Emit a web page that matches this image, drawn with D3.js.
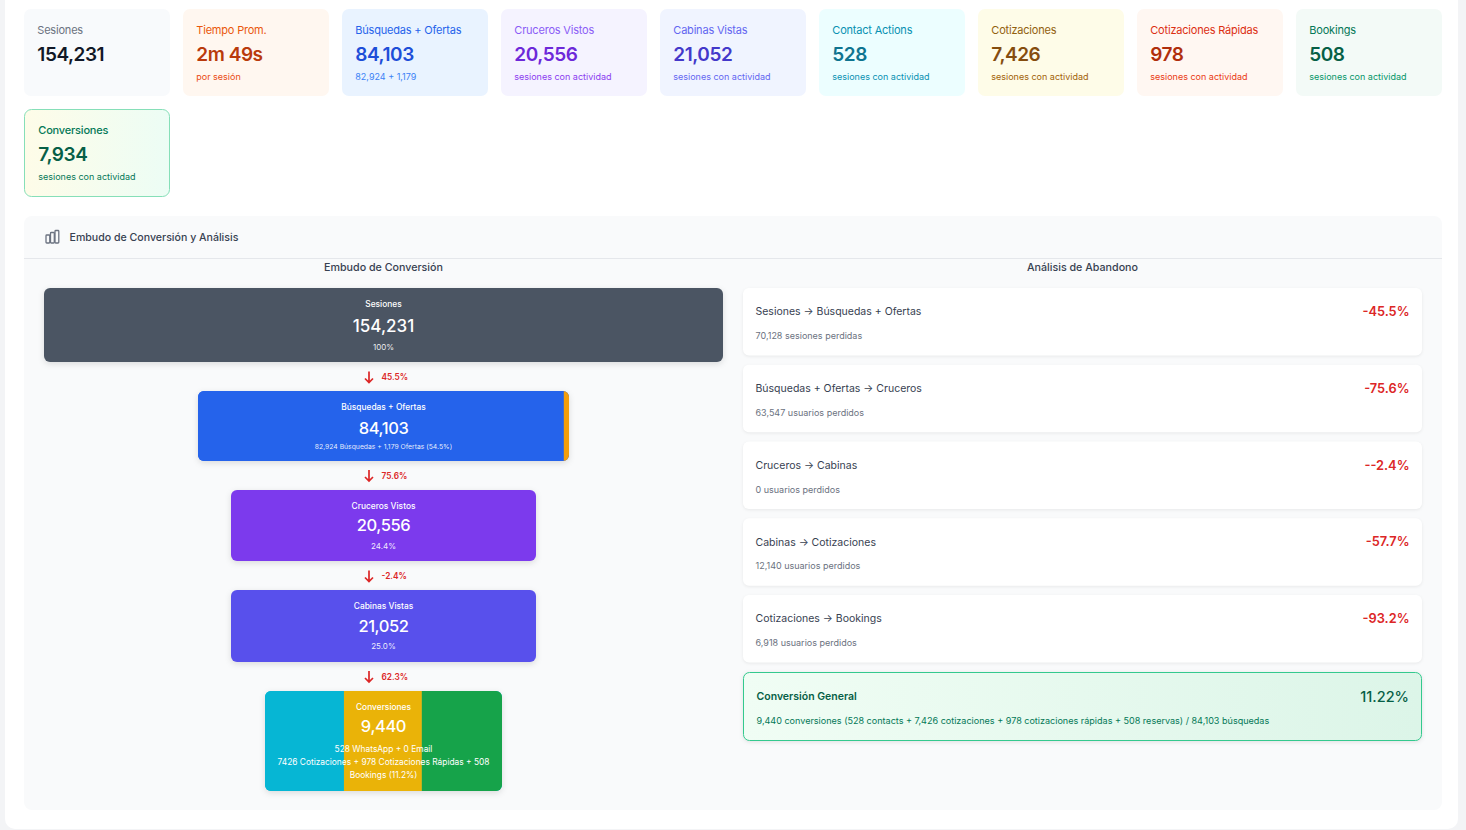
<!DOCTYPE html>
<html>
<head>
<meta charset="utf-8">
<script src="https://cdn.jsdelivr.net/npm/d3@7"></script>
<style>
    html, body { margin: 0; padding: 0; background: #f3f4f6; overflow: hidden; }
    svg { display: block; font-family: Inter, "Noto Sans", sans-serif; }
</style>
</head>
<body>
<svg id="chart" width="1466" height="830"></svg>
<script>
// KPI cards
const cardLabels = ["Sesiones", "Tiempo Prom.", "Búsquedas + Ofertas", "Cruceros Vistos", "Cabinas Vistas", "Contact Actions", "Cotizaciones", "Cotizaciones Rápidas", "Bookings", "Conversiones"];
const cardValues = ["154,231", "2m 49s", "84,103", "20,556", "21,052", "528", "7,426", "978", "508", "7,934"];
const cardNotes = ["", "por sesión", "82,924 + 1,179", "sesiones con actividad", "sesiones con actividad", "sesiones con actividad", "sesiones con actividad", "sesiones con actividad", "sesiones con actividad", "sesiones con actividad"];

// Funnel
const funnelLabels = ["Sesiones", "Búsquedas + Ofertas", "Cruceros Vistos", "Cabinas Vistas", "Conversiones"];
const funnelValues = ["154,231", "84,103", "20,556", "21,052", "9,440"];
const funnelNotes = [["100%"], ["82,924 Búsquedas + 1,179 Ofertas (54.5%)"], ["24.4%"], ["25.0%"], ["528 WhatsApp + 0 Email", "7426 Cotizaciones + 978 Cotizaciones Rápidas + 508", "Bookings (11.2%)"]];
const funnelDrops = ["45.5%", "75.6%", "-2.4%", "62.3%"];
const searchParts = [82924, 1179];
const conversionParts = [33.3, 32.9, 33.8];

// Abandon list
const lossLabels = ["Sesiones → Búsquedas + Ofertas", "Búsquedas + Ofertas → Cruceros", "Cruceros → Cabinas", "Cabinas → Cotizaciones", "Cotizaciones → Bookings"];
const lossNotes = ["70,128 sesiones perdidas", "63,547 usuarios perdidos", "0 usuarios perdidos", "12,140 usuarios perdidos", "6,918 usuarios perdidos"];
const lossRates = ["-45.5%", "-75.6%", "--2.4%", "-57.7%", "-93.2%"];
const overallLabel = "Conversión General";
const overallRate = "11.22%";
const overallNote = "9,440 conversiones (528 contacts + 7,426 cotizaciones + 978 cotizaciones rápidas + 508 reservas) / 84,103 búsquedas";

const svg = d3.select("#chart");
const defs = svg.append("defs");

// Page frame
svg.append("rect").attr("x", 5).attr("y", -20).attr("width", 1453).attr("height", 849).attr("rx", 10).attr("fill", "#fff");

function addGradient(id, from, to) {
    let g = defs.append("linearGradient").attr("id", id);
    g.append("stop").attr("offset", "0%").attr("stop-color", from);
    g.append("stop").attr("offset", "100%").attr("stop-color", to);
}
addGradient("cardGreen", "#fefce8", "#ecfdf5");
addGradient("overallGreen", "#f0fdf4", "#dcf5e8");

// Build the KPI cards
const cardColumn = d3.scaleBand().domain(d3.range(9)).range([24, 1442]).paddingInner(0.0817);
const cardBg = ["#f8fafc", "#fff7f0", "#e9f3ff", "#f5f3ff", "#f0f4ff", "#ecfeff", "#fefce8", "#fff7f2", "#f3faf7", "url(#cardGreen)"];
const cardLabelColor = ["#6b7280", "#ea580c", "#2563eb", "#8b5cf6", "#6366f1", "#0891b2", "#92610e", "#dc2f12", "#047857", "#047857"];
const cardValueColor = ["#111827", "#b93a0c", "#1d4ed8", "#6d28d9", "#4338ca", "#0e7490", "#854d0e", "#b02e0c", "#065f46", "#065f46"];
const cardNoteColor = ["#6b7280", "#ea4a12", "#3b82f6", "#8b3cf0", "#6366f1", "#0891b2", "#a16207", "#ea3a12", "#059669", "#047857"];

const cards = svg.selectAll("g.card").data(cardLabels).join("g")
    .attr("class", "card")
    .attr("transform", (d, i) => i < 9 ? `translate(${cardColumn(i)},9)` : "translate(24,109)");
cards.append("rect")
    .attr("x", (d, i) => i < 9 ? 0 : 0.5)
    .attr("y", (d, i) => i < 9 ? 0 : 0.5)
    .attr("width", (d, i) => i < 9 ? cardColumn.bandwidth() : cardColumn.bandwidth() - 1)
    .attr("height", 87)
    .attr("rx", 7)
    .attr("fill", (d, i) => cardBg[i])
    .attr("stroke", (d, i) => i < 9 ? "none" : "#86dfb8");
cards.append("text").attr("x", (d, i) => i < 9 ? 13.3 : 14.3).attr("y", 24.8)
    .attr("font-size", 11).attr("letter-spacing", -0.2).attr("font-weight", (d, i) => i < 9 ? 400 : 500)
    .attr("fill", (d, i) => cardLabelColor[i]).text(d => d);
cards.append("text").attr("x", (d, i) => i < 9 ? 13.3 : 14.3).attr("y", 51.8)
    .attr("font-size", 19).attr("letter-spacing", -0.45).attr("font-weight", 600)
    .attr("fill", (d, i) => cardValueColor[i]).text((d, i) => cardValues[i]);
cards.append("text").attr("x", (d, i) => i < 9 ? 13.3 : 14.3).attr("y", 71)
    .attr("font-size", 9).attr("fill", (d, i) => cardNoteColor[i]).text((d, i) => cardNotes[i]);

// Panel
svg.append("rect").attr("x", 24).attr("y", 216).attr("width", 1418).attr("height", 594).attr("rx", 8).attr("fill", "#f9fafb");
svg.append("line").attr("x1", 24).attr("x2", 1442).attr("y1", 258.5).attr("y2", 258.5).attr("stroke", "#e5e7eb");
svg.append("text").attr("x", 69.5).attr("y", 241).attr("font-size", 10.6).attr("font-weight", 500).attr("fill", "#374151").text("Embudo de Conversión y Análisis");

// Bar chart icon in the header
const icon = svg.append("g").attr("fill", "none").attr("stroke", "#6b7280").attr("stroke-width", 1.3);
[[46, 235, 3.8, 8], [50.5, 232.5, 3.8, 10.5], [55, 230.5, 3.8, 12.5]].forEach(b => {
    icon.append("rect").attr("x", b[0]).attr("y", b[1]).attr("width", b[2]).attr("height", b[3]).attr("rx", 0.8);
});

svg.append("text").attr("x", 383.5).attr("y", 271).attr("text-anchor", "middle").attr("font-size", 10.7).attr("font-weight", 500).attr("fill", "#374151").text("Embudo de Conversión");
svg.append("text").attr("x", 1082.5).attr("y", 271).attr("text-anchor", "middle").attr("font-size", 10.7).attr("font-weight", 500).attr("fill", "#374151").text("Análisis de Abandono");

// Funnel scales
const funnelWidth = d3.scaleOrdinal().domain(funnelLabels).range([679, 371, 305, 305, 237]);
const funnelTop = d3.scaleOrdinal().domain(funnelLabels).range([288, 391, 490, 590, 691]);
const funnelHeight = d3.scaleOrdinal().domain(funnelLabels).range([74, 70, 71, 72, 100]);
const funnelColor = d3.scaleOrdinal().domain(funnelLabels).range(["#4b5563", "#2563eb", "#7c3aed", "#5850ec", "#06b6d4"]);
const funnelCx = 383.5;

// Vertical text offsets inside each block: label, value, notes
const labelY = [19, 19, 19, 19, 19];
const valueY = [43.5, 43, 41, 42, 41];
const noteY = [62, 58, 59, 59, 61];

funnelLabels.forEach((name, i) => {
    let w = funnelWidth(name), x = funnelCx - w / 2, y = funnelTop(name), h = funnelHeight(name);
    let clipId = "funnelClip" + i;
    defs.append("clipPath").attr("id", clipId).append("rect").attr("x", x).attr("y", y).attr("width", w).attr("height", h).attr("rx", 6);
    svg.append("rect").attr("x", x).attr("y", y).attr("width", w).attr("height", h).attr("rx", 6)
        .attr("fill", funnelColor(name)).style("filter", "drop-shadow(0 2px 3px rgba(0,0,0,0.12))");

    // Búsquedas and Conversiones are stacked from their parts
    let parts = i === 1 ? searchParts : i === 4 ? conversionParts : null;
    if (parts) {
        let partColor = i === 1 ? ["#2563eb", "#f59e0b"] : ["#06b6d4", "#eab308", "#16a34a"];
        let px = d3.scaleLinear().domain([0, d3.sum(parts)]).range([x, x + w]);
        let stack = d3.cumsum(parts);
        svg.append("g").attr("clip-path", `url(#${clipId})`).selectAll("rect").data(parts).join("rect")
            .attr("x", (d, j) => px(stack[j] - d))
            .attr("y", y)
            .attr("width", d => px(d) - px(0))
            .attr("height", h)
            .attr("fill", (d, j) => partColor[j]);
    }

    svg.append("text").attr("x", funnelCx).attr("y", y + labelY[i]).attr("text-anchor", "middle")
        .attr("font-size", 8.4).attr("font-weight", 500).attr("fill", "#fff").text(name);
    svg.append("text").attr("x", funnelCx).attr("y", y + valueY[i]).attr("text-anchor", "middle")
        .attr("font-size", i === 0 ? 17 : 16.5).attr("letter-spacing", i === 0 ? 0 : -0.4).attr("font-weight", 500).attr("fill", "#fff").text(funnelValues[i]);
    funnelNotes[i].forEach((line, j) => {
        svg.append("text").attr("x", funnelCx).attr("y", y + noteY[i] + j * 13).attr("text-anchor", "middle")
            .attr("font-size", i === 1 ? 6.8 : i === 4 ? 8.4 : 8)
            .attr("fill", "#fff").attr("fill-opacity", i === 4 ? 1 : 0.9).text(line);
    });

    // Drop arrow below the block
    if (i < funnelDrops.length) {
        let ay = y + h + 15 - (i === 1 || i === 3 ? 0.5 : 0);
        svg.append("path").attr("d", `M369 ${ay - 5.5}V${ay + 5.5}M365 ${ay + 1.5}L369 ${ay + 5.5}L373 ${ay + 1.5}`)
            .attr("fill", "none").attr("stroke", "#dc2626").attr("stroke-width", 1.7);
        svg.append("text").attr("x", 381.5).attr("y", ay + 3).attr("font-size", 8.3).attr("font-weight", 600).attr("fill", "#dc2626").text(funnelDrops[i]);
    }
});

// Abandon rows
const rowY = d3.scalePoint().domain(d3.range(lossLabels.length)).range([288, 595]);
const rows = svg.selectAll("g.row").data(lossLabels).join("g").attr("class", "row")
    .attr("transform", (d, i) => `translate(743,${rowY(i)})`);
rows.append("rect").attr("width", 679).attr("height", 67.5).attr("rx", 6).attr("fill", "#fff")
    .style("filter", "drop-shadow(0 1px 1.5px rgba(0,0,0,0.07))");
rows.append("text").attr("x", 12.5).attr("y", 27.4).attr("font-size", 10.5).attr("fill", "#374151").text(d => d);
rows.append("text").attr("x", 12.5).attr("y", 51).attr("font-size", 9).attr("fill", "#6b7280").text((d, i) => lossNotes[i]);
rows.append("text").attr("x", 666.5).attr("y", 28).attr("text-anchor", "end").attr("font-size", 12.8).attr("font-weight", 600).attr("fill", "#dc2626").text((d, i) => lossRates[i]);

// Overall conversion row
svg.append("rect").attr("x", 743.5).attr("y", 672.5).attr("width", 678).attr("height", 68).attr("rx", 6)
    .attr("fill", "url(#overallGreen)").attr("stroke", "#34c98e")
    .style("filter", "drop-shadow(0 1px 2px rgba(0,0,0,0.1))");
svg.append("text").attr("x", 756.5).attr("y", 700).attr("font-size", 10.5).attr("font-weight", 600).attr("fill", "#065f46").text(overallLabel);
svg.append("text").attr("x", 1409).attr("y", 702).attr("text-anchor", "end").attr("font-size", 14.5).attr("font-weight", 500).attr("fill", "#065f46").text(overallRate);
svg.append("text").attr("x", 756.5).attr("y", 724).attr("font-size", 9.05).attr("fill", "#047857").text(overallNote);
</script>
</body>
</html>
